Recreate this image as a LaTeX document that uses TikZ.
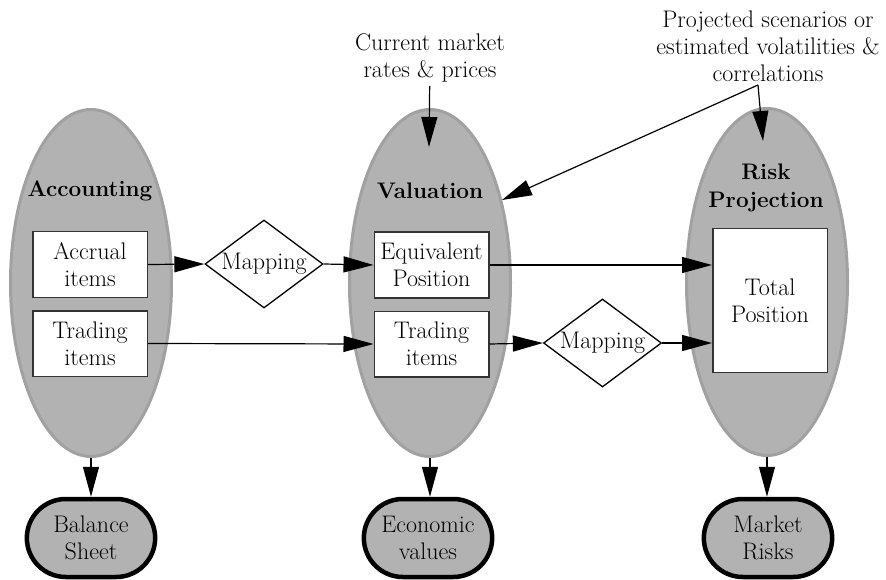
\documentclass[tikz,border=0pt]{standalone}
\usetikzlibrary{arrows.meta,shapes.geometric,shapes.misc}

\begin{document}
\begin{tikzpicture}[x=1pt,y=-1pt,
    every node/.style={font=\fontsize{24}{27}\selectfont, align=center},
    stage/.style={ellipse, fill=black!30, draw=black!37, line width=3pt, minimum width=161pt, minimum height=347pt, inner sep=0pt},
    title/.style={font=\fontsize{22.5}{28}\selectfont\bfseries},
    itembox/.style={draw=black!80, fill=white, line width=1.5pt, minimum width=114.5pt, minimum height=65.5pt, inner sep=1pt},
    mapping/.style={diamond, draw, fill=white, line width=1.3pt, aspect=1.34, minimum width=118pt, minimum height=88pt, inner sep=0pt},
    result/.style={rounded rectangle, draw, fill=black!30, line width=4.5pt, minimum width=135pt, minimum height=78pt},
    flow/.style={-{Triangle[length=30pt,width=16pt]}, draw=black, line width=1.2pt}]

    \useasboundingbox (0,0) rectangle (886,580);

    % stages
    \node[stage] (acc) at (91,283) {};
    \node[stage] (val) at (430,283) {};
    \node[stage] (risk) at (767,282) {};
    \node[title] (acct) at (90,191) {Accounting};
    \node[title] (valt) at (430,191) {Valuation};
    \node[title] (riskt) at (766,188) {Risk\\Projection};

    % items
    \node[itembox] (accr) at (90,264.5) {Accrual\\items};
    \node[itembox] (trl) at (90,343.5) {Trading\\items};
    \node[itembox] (equ) at (431.5,265) {Equivalent\\Position};
    \node[itembox] (trm) at (431.5,344) {Trading\\items};
    \node[itembox, minimum height=143.5pt] (tot) at (770,300.5) {Total\\Position};

    % mappings
    \node[mapping] (map1) at (264,264) {Mapping};
    \node[mapping] (map2) at (602.5,343) {Mapping};

    % outputs
    \node[result] (bal) at (91,538) {Balance\\Sheet};
    \node[result] (eco) at (428,538) {Economic\\values};
    \node[result] (mkt) at (768,538) {Market\\Risks};

    % inputs
    \node (cur) at (430,58) {Current market\\rates \& prices};
    \node (proj) at (768,46) {Projected scenarios or\\estimated volatilities \&\\correlations};
    \coordinate (curend) at (429,147);
    \coordinate (fork) at (758,85);
    \coordinate (riskend) at (763,141);
    \coordinate (valend) at (502,200);

    \draw[flow] (cur) -- (curend);
    \draw[flow] (fork) -- (riskend);
    \draw[flow] (fork) -- (valend);

    % flows
    \draw[flow] (accr.east) -- (map1.west);
    \draw[flow] (map1.east) -- (equ.west);
    \draw[flow] (equ.east) -- (equ.east -| tot.west);
    \draw[flow] (trl.east) -- (trm.west);
    \draw[flow] (trm.east) -- (map2.west);
    \draw[flow] (map2.east) -- (map2.east -| tot.west);

    \draw[flow] (acc.south) -- (bal.north);
    \draw[flow] (val.south) -- (val.south |- eco.north);
    \draw[flow] (risk.south) -- (risk.south |- mkt.north);

\end{tikzpicture}
\end{document}
